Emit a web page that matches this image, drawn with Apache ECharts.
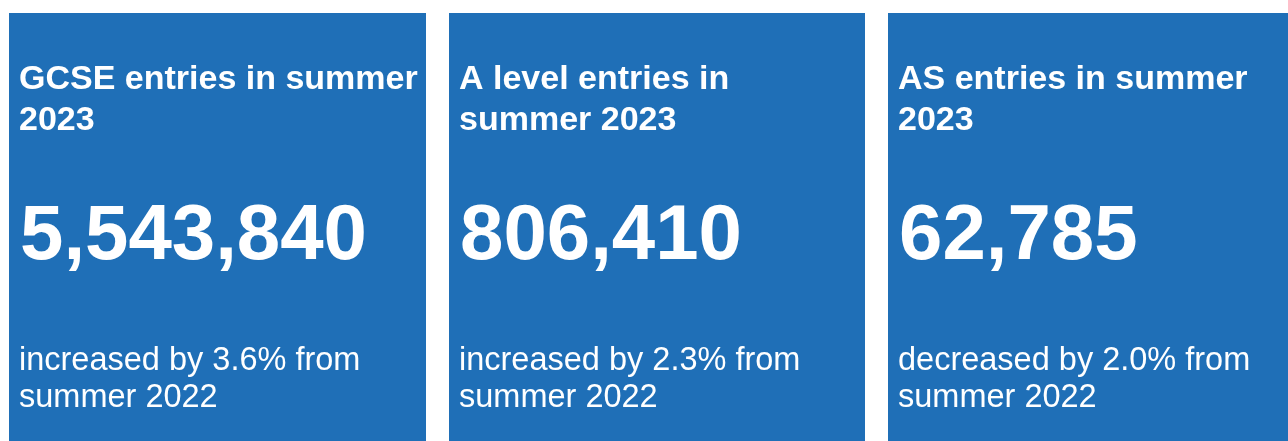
<!DOCTYPE html>
<html>
<head>
<meta charset="utf-8">
<style>
html,body{margin:0;padding:0;background:#ffffff;}
#chart{width:1288px;height:441px;}
</style>
<script src="https://cdn.jsdelivr.net/npm/echarts@6/dist/echarts.min.js"></script>
</head>
<body>
<div id="chart"></div>
<script>
// Data
var tileTitles = ['GCSE entries in summer\n2023', 'A level entries in\nsummer 2023', 'AS entries in summer\n2023'];
var tileValues = [5543840, 806410, 62785];
var tileChanges = ['increased by 3.6% from\nsummer 2022', 'increased by 2.3% from\nsummer 2022', 'decreased by 2.0% from\nsummer 2022'];

var chart = echarts.init(document.getElementById('chart'), null, {renderer: 'canvas'});
var FONT = '"Liberation Sans", Arial, Helvetica, sans-serif';
var BLUE = '#1f6fb7';
var tileX = [9, 449, 888];
var tileW = [417, 416, 400];

function fmt(n) { return n.toString().replace(/\B(?=(\d{3})+(?!\d))/g, ','); }

var elements = [];
for (var i = 0; i < tileValues.length; i++) {
  var x0 = tileX[i];
  elements.push({
    type: 'rect',
    shape: {x: x0, y: 13, width: tileW[i], height: 441 - 13},
    style: {fill: BLUE}
  });
  elements.push({
    type: 'text', x: x0 + 10, y: 59,
    style: {text: tileTitles[i], fill: '#ffffff', font: 'bold 34px ' + FONT, lineHeight: 41, verticalAlign: 'top', align: 'left'}
  });
  elements.push({
    type: 'text', x: x0 + 11, y: 198,
    style: {text: fmt(tileValues[i]), fill: '#ffffff', font: 'bold 78px ' + FONT, lineHeight: 78, verticalAlign: 'top', align: 'left'}
  });
  elements.push({
    type: 'text', x: x0 + 10, y: 343,
    style: {text: tileChanges[i], fill: '#ffffff', font: '32.5px ' + FONT, lineHeight: 37, verticalAlign: 'top', align: 'left'}
  });
}

chart.setOption({
  backgroundColor: '#ffffff',
  animation: false,
  graphic: {elements: elements}
});
</script>
</body>
</html>
